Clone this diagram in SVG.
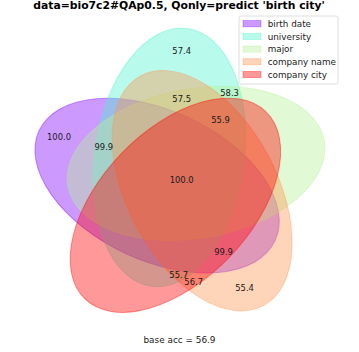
<svg xmlns="http://www.w3.org/2000/svg" width="359" height="352" viewBox="0 0 359 352">
<style>
.el{stroke-width:1;fill-opacity:0.4;stroke-opacity:0.4}
.lb{font-family:"DejaVu Sans",sans-serif;font-size:8.4px;fill:#1a1a1a;text-anchor:middle}
.lg{font-family:"DejaVu Sans",sans-serif;font-size:8.8px;fill:#1a1a1a}
.lp{stroke-width:0.8;fill-opacity:0.4;stroke-opacity:0.4}
</style>
<rect width="359" height="352" fill="#fff"/>
<text x="179" y="8.5" style="font-family:'DejaVu Sans',sans-serif;font-size:10.8px;font-weight:bold;fill:#000" text-anchor="middle">data=bio7c2#QAp0.5, Qonly=predict 'birth city'</text>
<g id="sets">
<g id="birth-date"><ellipse class="el" cx="157.1" cy="185.6" rx="130.2" ry="74.85" transform="rotate(-155 157.1 185.6)" fill="#8000ff" stroke="#8000ff"/></g>
<g id="university"><ellipse class="el" cx="169.4" cy="157.4" rx="130.2" ry="74.85" transform="rotate(-82 169.4 157.4)" fill="#4df3ce" stroke="#4df3ce"/></g>
<g id="major"><ellipse class="el" cx="196.1" cy="163.4" rx="130.2" ry="74.85" transform="rotate(-10 196.1 163.4)" fill="#b3f396" stroke="#b3f396"/></g>
<g id="company-name"><ellipse class="el" cx="202.1" cy="190.7" rx="130.2" ry="74.85" transform="rotate(-118 202.1 190.7)" fill="#ff964f" stroke="#ff964f"/></g>
<g id="company-city"><ellipse class="el" cx="175.4" cy="205.3" rx="130.2" ry="74.85" transform="rotate(-46 175.4 205.3)" fill="#ff0000" stroke="#ff0000"/></g>
</g>
<g id="connectors"></g>
<g id="labels">
<text class="lb" x="181.7" y="53.5">57.4</text>
<text class="lb" x="181.7" y="102">57.5</text>
<text class="lb" x="229.6" y="95.6">58.3</text>
<text class="lb" x="220.6" y="123">55.9</text>
<text class="lb" x="59" y="140.4">100.0</text>
<text class="lb" x="103.8" y="150">99.9</text>
<text class="lb" x="181.7" y="183">100.0</text>
<text class="lb" x="223.6" y="254.8">99.9</text>
<text class="lb" x="178.7" y="278">55.7</text>
<text class="lb" x="193.7" y="284.7">56.7</text>
<text class="lb" x="244.6" y="290.8">55.4</text>
</g>
<g id="legend">
<rect x="239" y="16" width="99" height="68" rx="2" fill="#fff" fill-opacity="0.8" stroke="#d6d6d6" stroke-width="0.8"/>
<rect class="lp" x="243" y="20.6" width="18" height="6.2" fill="#8000ff" stroke="#8000ff"/>
<rect class="lp" x="243" y="33.3" width="18" height="6.2" fill="#4df3ce" stroke="#4df3ce"/>
<rect class="lp" x="243" y="46" width="18" height="6.2" fill="#b3f396" stroke="#b3f396"/>
<rect class="lp" x="243" y="58.7" width="18" height="6.2" fill="#ff964f" stroke="#ff964f"/>
<rect class="lp" x="243" y="71.4" width="18" height="6.2" fill="#ff0000" stroke="#ff0000"/>
<text class="lg" x="267.7" y="26.8">birth date</text>
<text class="lg" x="267.7" y="39.5">university</text>
<text class="lg" x="267.7" y="52.2">major</text>
<text class="lg" x="267.7" y="64.9">company name</text>
<text class="lg" x="267.7" y="77.6">company city</text>
</g>
<text x="179.5" y="343.2" style="font-family:'DejaVu Sans',sans-serif;font-size:8.9px;fill:#1a1a1a" text-anchor="middle">base acc = 56.9</text>
</svg>
